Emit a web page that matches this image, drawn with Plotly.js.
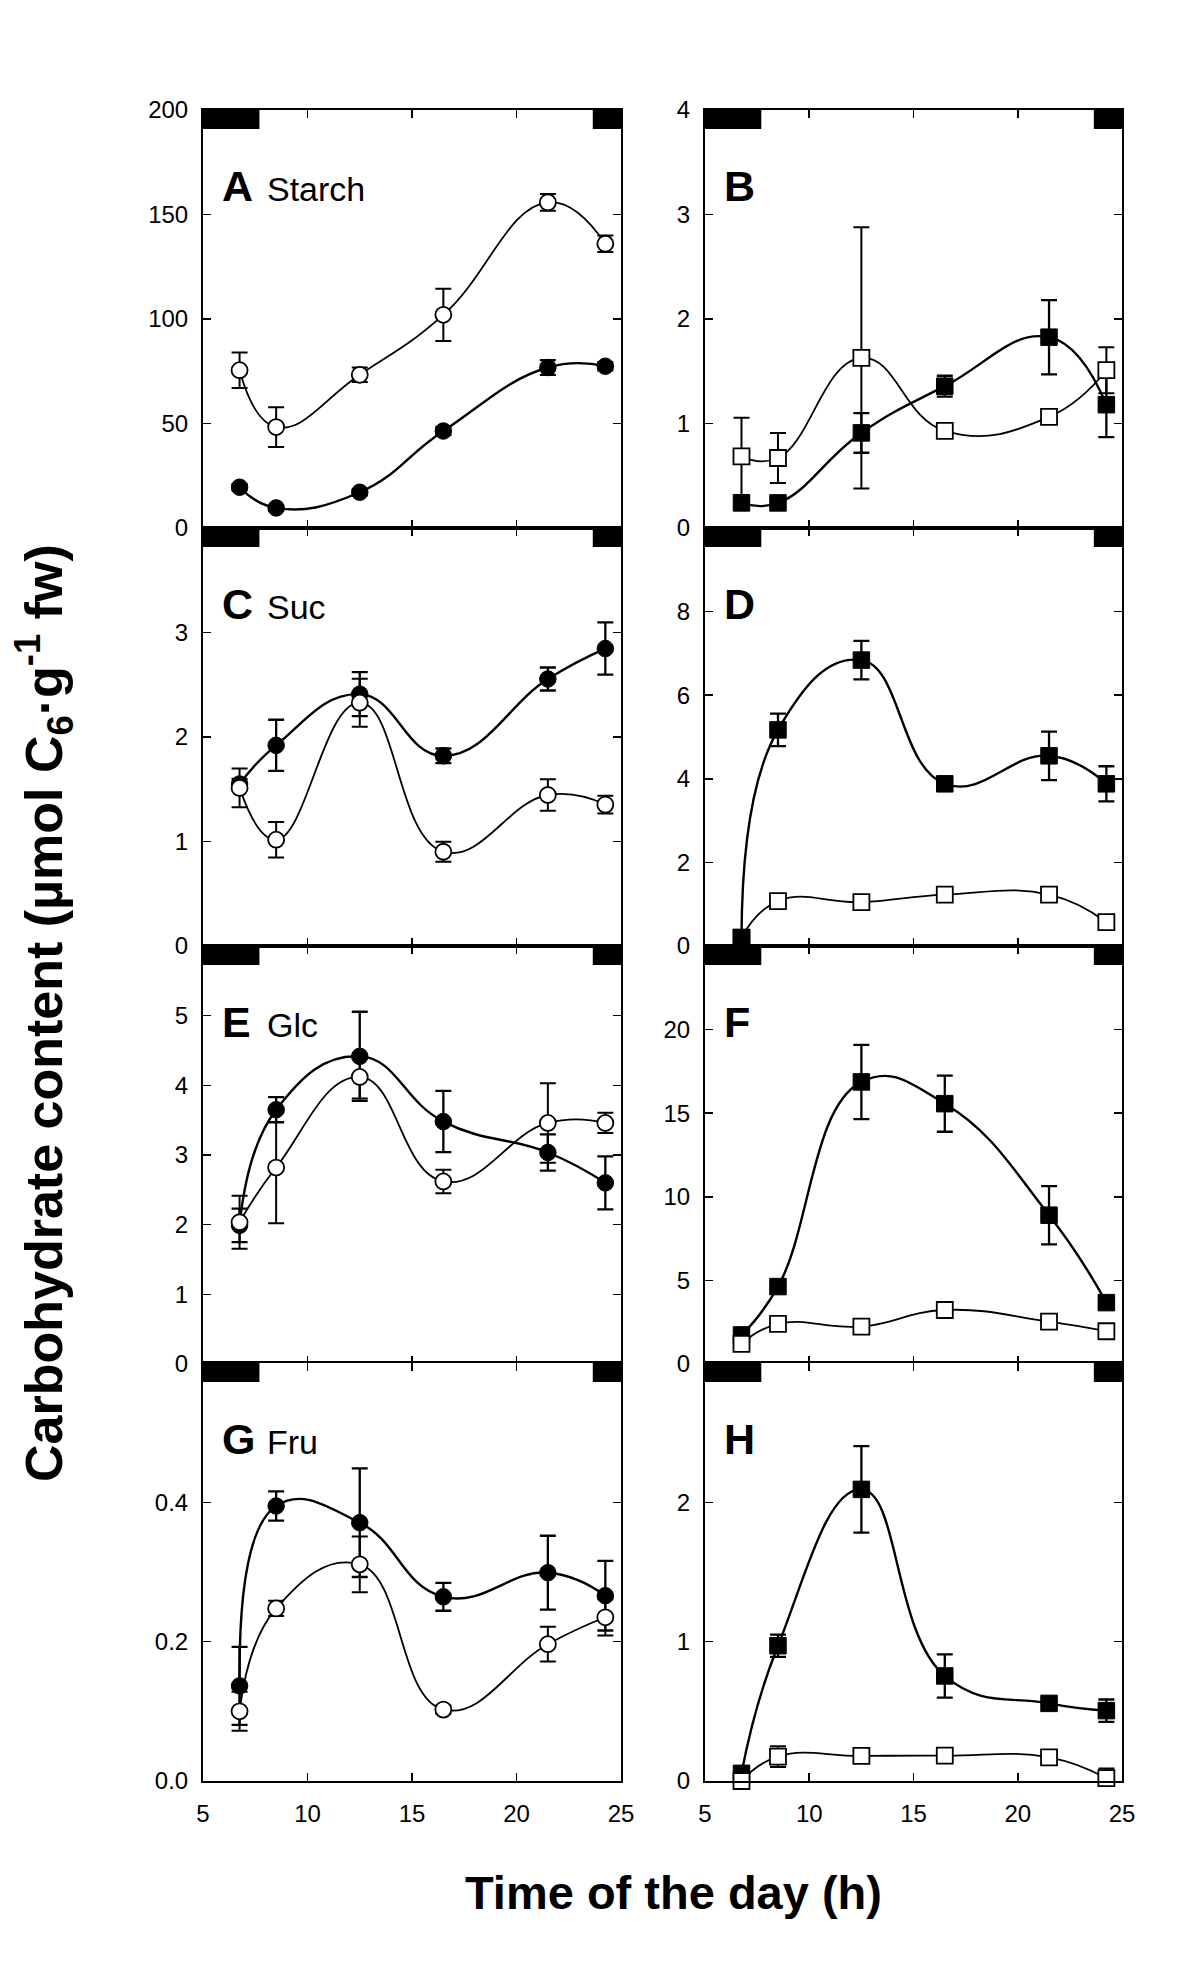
<!DOCTYPE html>
<html><head><meta charset="utf-8">
<script src="https://cdn.plot.ly/plotly-3.0.1.min.js"></script>
<style>html,body{margin:0;padding:0;background:#fff}</style>
</head><body>
<div id="chart" style="width:1200px;height:1977px"></div>
<script>
// ---- data (time of day, h) ----
const timeH = [6.75, 8.5, 12.5, 16.5, 21.5, 24.25];

// A Starch (circles)
const starchFilled    = [19.5, 9.6, 17.1, 46.4, 76.8, 77.4];
const starchFilledErr = [1.5, 1.0, 1.5, 2.0, 3.5, 2.0];
const starchOpen      = [75.5, 48.3, 73.3, 102, 155.8, 136];
const starchOpenErr   = [8.5, 9.5, 3.5, 12.5, 4.0, 4.0];

// B (squares)
const bFilled    = [0.24, 0.24, 0.91, 1.357, 1.826, 1.18];
const bFilledErr = [0.03, 0.03, 0.19, 0.10, 0.355, 0.31];
const bOpen      = [0.686, 0.67, 1.628, 0.929, 1.063, 1.51];
const bOpenErr   = [0.37, 0.24, 1.25, 0.04, 0.04, 0.22];

// C Suc (circles)
const sucFilled    = [1.55, 1.92, 2.41, 1.82, 2.555, 2.846];
const sucFilledErr = [0.05, 0.245, 0.21, 0.07, 0.11, 0.25];
const sucOpen      = [1.513, 1.017, 2.328, 0.902, 1.445, 1.353];
const sucOpenErr   = [0.185, 0.17, 0.23, 0.095, 0.15, 0.085];

// D (squares)
const dFilled    = [0.2, 5.17, 6.84, 3.88, 4.55, 3.88];
const dFilledErr = [0.05, 0.39, 0.46, 0.10, 0.58, 0.42];
const dOpen      = [0.2, 1.075, 1.05, 1.23, 1.23, 0.57];
const dOpenErr   = [0.03, 0.05, 0.05, 0.05, 0.05, 0.08];

// E Glc (circles)
const glcFilled    = [1.99, 3.65, 4.416, 3.48, 3.036, 2.6];
const glcFilledErr = [0.24, 0.18, 0.64, 0.44, 0.26, 0.38];
const glcOpen      = [2.035, 2.82, 4.12, 2.62, 3.46, 3.46];
const glcOpenErr   = [0.38, 0.80, 0.31, 0.17, 0.57, 0.145];

// F (squares)
const fFilled    = [1.74, 4.63, 16.87, 15.57, 8.9, 3.67];
const fFilledErr = [0.2, 0.3, 2.22, 1.68, 1.74, 0.3];
const fOpen      = [1.2, 2.4, 2.24, 3.23, 2.53, 1.96];
const fOpenErr   = [0.1, 0.2, 0.1, 0.2, 0.2, 0.2];

// G Fru (circles)
const fruFilled    = [0.1365, 0.3947, 0.3708, 0.2644, 0.299, 0.266];
const fruFilledErr = [0.056, 0.021, 0.078, 0.02, 0.053, 0.05];
const fruOpen      = [0.10, 0.2477, 0.311, 0.1025, 0.1964, 0.235];
const fruOpenErr   = [0.028, 0.011, 0.04, 0.006, 0.025, 0.026];

// H (squares)
const hFilled    = [0.055, 0.971, 2.093, 0.754, 0.557, 0.505];
const hFilledErr = [0.02, 0.08, 0.31, 0.155, 0.03, 0.08];
const hOpen      = [0.0, 0.175, 0.18, 0.182, 0.17, 0.02];
const hOpenErr   = [0.01, 0.075, 0.02, 0.02, 0.02, 0.07];

// axis ticks
const xTicks = [5, 10, 15, 20, 25];
const nightStart = [5, 7.7];
const nightEnd = [23.65, 25];

const panelLetters = ['A','B','C','D','E','F','G','H'];
const panelNames   = ['Starch','','Suc','','Glc','','Fru',''];
const yTickSets = [
  [0,50,100,150,200], [0,1,2,3,4],
  [0,1,2,3], [0,2,4,6,8],
  [0,1,2,3,4,5], [0,5,10,15,20],
  [0,0.2,0.4], [0,1,2]
];
const yTickTexts = [
  null, null, null, null, null, null, ['0.0','0.2','0.4'], null
];
const yMax = [200, 4, 4, 10, 6, 25, 0.6, 3];

const panels = [
  {f: starchFilled, fe: starchFilledErr, o: starchOpen, oe: starchOpenErr, sym: 'circle'},
  {f: bFilled, fe: bFilledErr, o: bOpen, oe: bOpenErr, sym: 'square'},
  {f: sucFilled, fe: sucFilledErr, o: sucOpen, oe: sucOpenErr, sym: 'circle'},
  {f: dFilled, fe: dFilledErr, o: dOpen, oe: dOpenErr, sym: 'square', filledOnTop: true},
  {f: glcFilled, fe: glcFilledErr, o: glcOpen, oe: glcOpenErr, sym: 'circle'},
  {f: fFilled, fe: fFilledErr, o: fOpen, oe: fOpenErr, sym: 'square'},
  {f: fruFilled, fe: fruFilledErr, o: fruOpen, oe: fruOpenErr, sym: 'circle'},
  {f: hFilled, fe: hFilledErr, o: hOpen, oe: hOpenErr, sym: 'square'}
];

// ---- layout geometry ----
const W = 1200, H = 1977;
const colPx = [[203, 621], [705, 1122]];
const rowTopPx = [110, 528, 946, 1363];
const panelHpx = 418;
const FONT = 'Liberation Sans, Arial, sans-serif';

const traces = [];
const layout = {
  width: W, height: H,
  margin: {l: 0, r: 0, t: 0, b: 0, pad: 0},
  paper_bgcolor: '#fff', plot_bgcolor: '#fff',
  showlegend: false,
  font: {family: FONT, color: '#000', size: 24},
  shapes: [], annotations: []
};

function errObj(arr, thick) {
  return {type: 'data', array: arr, visible: true, color: '#000', thickness: thick, width: 8};
}

panels.forEach((p, i) => {
  const k = i + 1;
  const xa = 'x' + (k === 1 ? '' : k);
  const ya = 'y' + (k === 1 ? '' : k);
  const col = i % 2, row = Math.floor(i / 2);
  const top = rowTopPx[row], bot = top + panelHpx;

  const filledTrace = {
    x: timeH, y: p.f, xaxis: xa, yaxis: ya, type: 'scatter', mode: 'lines+markers',
    cliponaxis: false, hoverinfo: 'skip',
    line: {color: '#000', width: 2.4, shape: 'spline', smoothing: 1.3},
    marker: {symbol: p.sym, size: 16.5, color: '#000', line: {color: '#000', width: 1}},
    error_y: errObj(p.fe, 2.3)
  };
  const openTrace = {
    x: timeH, y: p.o, xaxis: xa, yaxis: ya, type: 'scatter', mode: 'lines+markers',
    cliponaxis: false, hoverinfo: 'skip',
    line: {color: '#000', width: 1.8, shape: 'spline', smoothing: 1.3},
    marker: {symbol: p.sym, size: 16, color: '#fff', line: {color: '#000', width: 1.8}},
    error_y: errObj(p.oe, 2)
  };
  if (p.filledOnTop) { traces.push(openTrace, filledTrace); }
  else { traces.push(filledTrace, openTrace); }

  const axKey = (k === 1 ? '' : k);
  layout['xaxis' + axKey] = {
    domain: [colPx[col][0] / W, colPx[col][1] / W],
    anchor: ya, range: [5, 25], fixedrange: true,
    tickvals: xTicks, ticks: 'inside', ticklen: 8, tickwidth: 1.6, tickcolor: '#000',
    showline: true, linewidth: 2, linecolor: '#000', mirror: 'ticks',
    showgrid: false, zeroline: false,
    showticklabels: row === 3, ticklabelstandoff: 10,
    tickfont: {family: FONT, size: 24, color: '#000'}
  };
  const yax = {
    domain: [1 - bot / H, 1 - top / H],
    anchor: xa, range: [0, yMax[i]], fixedrange: true,
    tickvals: yTickSets[i], ticks: 'inside', ticklen: 8, tickwidth: 1.6, tickcolor: '#000',
    showline: true, linewidth: 2, linecolor: '#000', mirror: 'ticks',
    showgrid: false, zeroline: false, ticklabelstandoff: 8,
    tickfont: {family: FONT, size: 24, color: '#000'}
  };
  if (yTickTexts[i]) yax.ticktext = yTickTexts[i];
  layout['yaxis' + axKey] = yax;

  // night bars at top of each panel
  [[nightStart[0], nightStart[1]], [nightEnd[0], nightEnd[1]]].forEach(([a, b]) => {
    layout.shapes.push({
      type: 'rect', xref: xa, yref: ya + ' domain',
      x0: a, x1: b, y0: 1 - 19 / panelHpx, y1: 1,
      fillcolor: '#000', line: {width: 0}, layer: 'above'
    });
  });

  // panel letters and names
  layout.annotations.push({
    xref: xa + ' domain', yref: ya + ' domain',
    x: 17 / 418, y: 1 - 76 / panelHpx, xanchor: 'left', yanchor: 'middle',
    text: '<b>' + panelLetters[i] + '</b>', showarrow: false,
    font: {family: FONT, size: 43, color: '#000'}
  });
  if (panelNames[i]) {
    layout.annotations.push({
      xref: xa + ' domain', yref: ya + ' domain',
      x: 62 / 418, y: 1 - 79 / panelHpx, xanchor: 'left', yanchor: 'middle',
      text: panelNames[i], showarrow: false,
      font: {family: FONT, size: 34, color: '#000'}
    });
  }
});

// axis titles
layout.annotations.push({
  xref: 'paper', yref: 'paper', x: 44 / W, y: 1 - 1013 / H,
  xanchor: 'center', yanchor: 'middle', textangle: -90, showarrow: false,
  text: '<b>Carbohydrate content (µmol C<sub>6</sub>·g<sup>-1</sup> fw)</b>',
  font: {family: FONT, size: 52, color: '#000'}
});
layout.annotations.push({
  xref: 'paper', yref: 'paper', x: 673 / W, y: 1 - 1892 / H,
  xanchor: 'center', yanchor: 'middle', showarrow: false,
  text: '<b>Time of the day (h)</b>',
  font: {family: FONT, size: 47, color: '#000'}
});

Plotly.newPlot('chart', traces, layout, {staticPlot: true, displayModeBar: false});
</script>
</body></html>
